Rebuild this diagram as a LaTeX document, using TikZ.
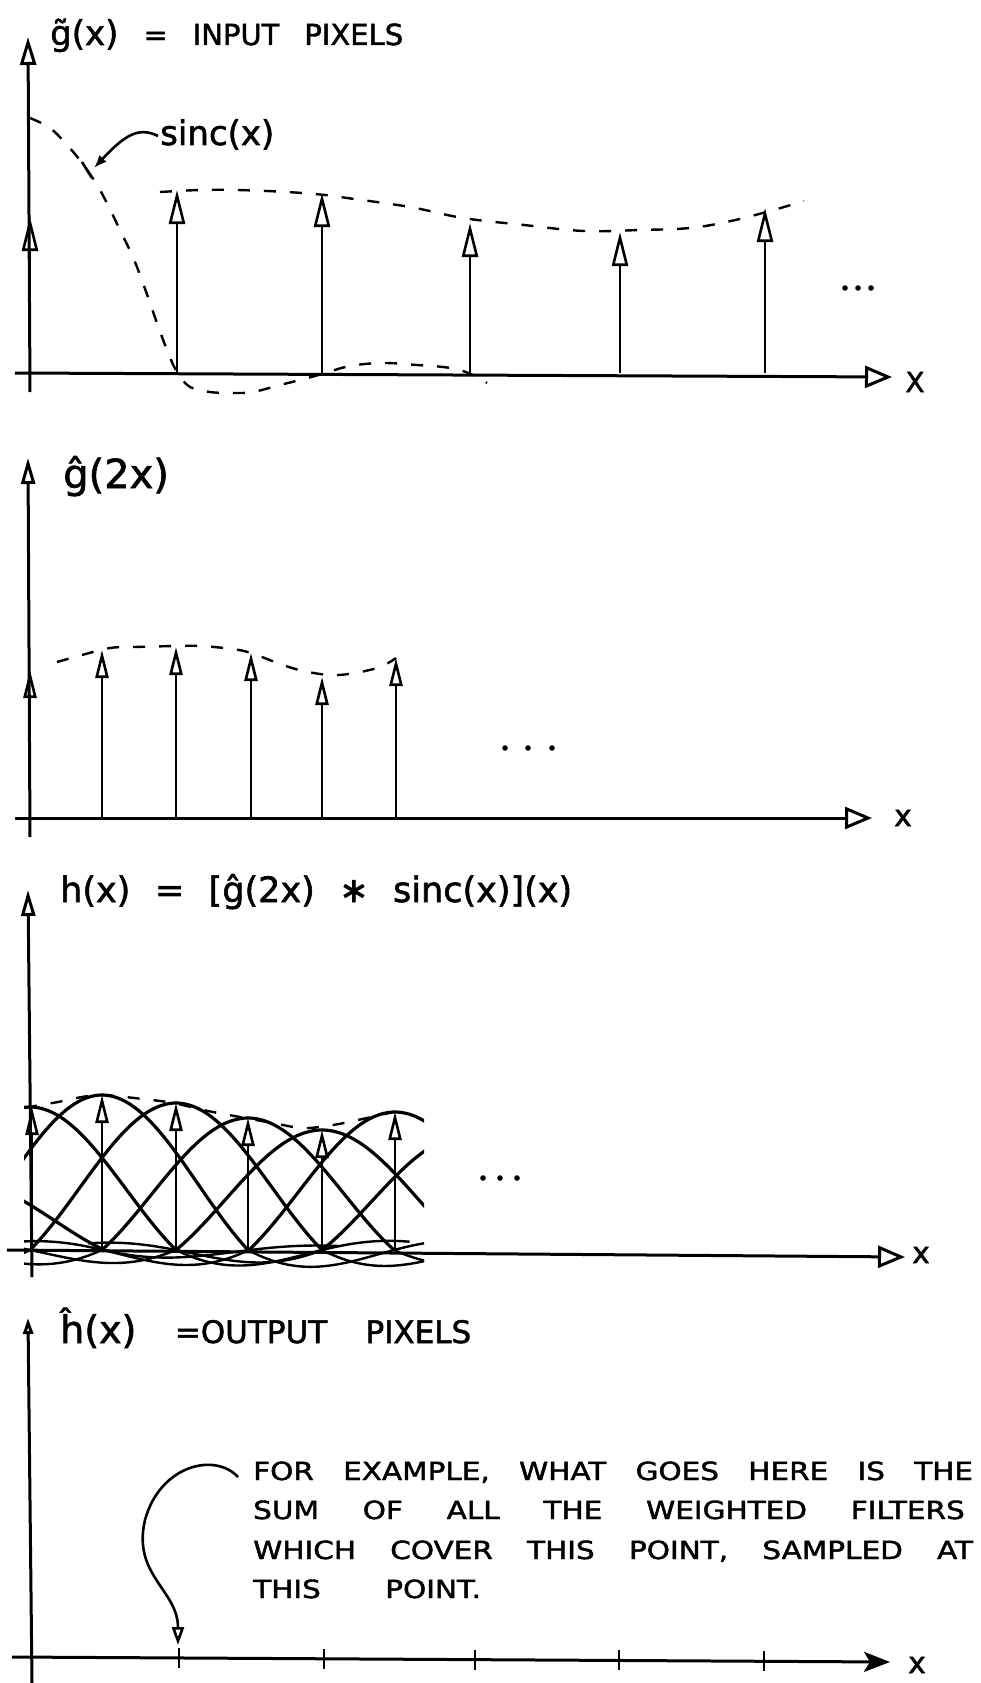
\documentclass[tikz,border=0pt]{standalone}
\usepackage{fontspec}
\setmainfont{DejaVu Sans}[FakeBold=1.6]
\usetikzlibrary{arrows.meta}
\newcommand\spreadtext[2]{\makebox[#1][s]{#2}}
\newcommand\widetext[3]{\scalebox{#1}[1]{\makebox[#2][s]{#3}}}
\tikzset{
  ax/.style={line width=3pt},
  xarrow/.style={ax,-{Triangle[open,length=27pt,width=22pt]}},
  yarrow/.style={ax,-{Triangle[open,length=28pt,width=16pt]}},
  yarrowsmall/.style={ax,-{Triangle[open,length=26pt,width=14pt]}},
  impA/.style={line width=2.6pt,-{Triangle[open,length=34pt,width=16pt]}},
  impB/.style={line width=2.6pt,-{Triangle[open,length=28pt,width=13pt]}},
  dsh/.style={line width=2.4pt,dash pattern=on 12pt off 14pt},
  lobe/.style={line width=3.2pt},
  sidelobe/.style={line width=2.4pt},
  lbl/.style={inner sep=0pt,anchor=base west},
  dotmark/.style={fill=black},
  tickmark/.style={line width=2.5pt}
}
\begin{document}
\begin{tikzpicture}[x=1pt,y=-1pt]
\useasboundingbox (0,0) rectangle (980,1683);

%%%%%%%%%%%%%%%% Panel 1
\draw[xarrow] (15,373) -- (892,377);
\draw[yarrow] (30,392) -- (28,37);
\node[lbl] (t1) at (50,45) {\spreadtext{353pt}{\fontsize{34}{40}\selectfont g^^^^0303(x)\fontsize{29}{34}\selectfont{} = INPUT PIXELS}};
\node[inner sep=0pt,font=\fontsize{28}{32}\selectfont] (X1) at (915,382) {X};
\foreach \px/\py in {30/217,177/190,322/193,470/223,620/232,765/208}
  \draw[impA] (\px,373) -- (\px,\py);
% envelope
\draw[dsh] plot[smooth,tension=0.6] coordinates {(160,192)(200,190)(237,190)(287,192)(325,195)(347,198)(410,207)(463,218)(524,225)(584,231)(640,230)(690,228)(731,221)(770,211)(804,201)};
% sinc
\draw[dsh] plot[smooth,tension=0.6] coordinates {(30,118)(50,128)(67,145)(82,163)(100,190)(120,230)(137,267)(157,323)(167,350)(177,372)(190,387)(210,392)(233,393)(253,392)(280,385)(300,380)(322,374)(350,366)(383,363)(417,365)(443,367)(460,370)(477,377)(487,383)};
\node[lbl,font=\fontsize{34}{40}\selectfont] (sinclbl) at (160,145) {sinc(x)};
\coordinate (sL) at (158,136);
\coordinate (sT) at (94,168);
\draw[line width=2.6pt,-{Latex[length=13pt,width=10pt]}] (sL) .. controls (138,126) and (124,136) .. (sT);
\draw[line width=2.6pt] (82,162) -- (92,178);
\foreach \dx in {845,858,871} \fill[dotmark] (\dx,288) circle (2.8pt);

%%%%%%%%%%%%%%%% Panel 2
\draw[xarrow] (15,818) -- (872,818);
\draw[yarrowsmall] (30,837) -- (28,458);
\node[lbl,font=\fontsize{40}{46}\selectfont] (t2) at (63,488) {^^^^011d(2x)};
\node[inner sep=0pt,font=\fontsize{30}{34}\selectfont] (X2) at (903,818) {x};
\foreach \px/\py in {30/670,102/650,176/647,251/653,322/677,396/658}
  \draw[impB] (\px,818) -- (\px,\py);
\draw[dsh] plot[smooth,tension=0.6] coordinates {(57,662)(82,655)(110,648)(135,647)(176,646)(201,646)(232,649)(251,653)(283,665)(308,672)(339,675)(377,668)(396,658)};
\foreach \dx in {505,528,552} \fill[dotmark] (\dx,748) circle (2.8pt);

%%%%%%%%%%%%%%%% Panel 3
\begin{scope}
\clip (24,1000) rectangle (424,1300);
\foreach \c/\a in {-42/70,30/143,102/155,176/147,248/132,322/120,395/138,468/115}{
  \draw[lobe] plot[domain=-0.995:0.995,samples=40,smooth] ({\c+146*\x},{1250-\a*sin(\x*180)/(\x*pi)});
  \draw[sidelobe] plot[domain=1:2.6,samples=30,smooth] ({\c+146*\x},{1250-0.5*\a*sin(\x*180)/(\x*pi)});
  \draw[sidelobe] plot[domain=-2.6:-1,samples=30,smooth] ({\c+146*\x},{1250-0.5*\a*sin(\x*180)/(\x*pi)});
}
\end{scope}
\draw[xarrow] (7,1250) -- (905,1257);
\draw[yarrowsmall] (32,1277) -- (28,890);
\node[lbl] (t3) at (60,902) {\spreadtext{512pt}{\fontsize{35}{40}\selectfont h(x) = [^^^^011d(2x) ^^^^2217 sinc(x)](x)}};
\node[inner sep=0pt,font=\fontsize{30}{34}\selectfont] (X3) at (921,1255) {x};
\foreach \px/\py in {32/1107,102/1095,176/1103,248/1118,322/1130,395/1112}
  \draw[impB] (\px,1250) -- (\px,\py);
\draw[dsh] plot[smooth,tension=0.6] coordinates {(25,1108)(40,1105)(58,1102)(82,1097)(102,1095)(143,1099)(173,1103)(208,1111)(240,1117)(273,1123)(303,1128)(333,1125)(367,1118)(393,1112)};
\foreach \dx in {483,500,517} \fill[dotmark] (\dx,1178) circle (2.8pt);

%%%%%%%%%%%%%%%% Panel 4
\draw[ax,-{Stealth[length=26pt,width=20pt,inset=6pt]}] (12,1657) -- (890,1662);
\draw[ax,-{Triangle[open,length=16pt,width=10pt]}] (32,1683) -- (28,1318);
\node[lbl] (t4) at (60,1343) {\spreadtext{411pt}{\fontsize{38}{44}\selectfont ^^^^0125(x)\fontsize{31}{36}\selectfont{} =OUTPUT PIXELS}};
\node[inner sep=0pt,font=\fontsize{30}{34}\selectfont] (X4) at (917,1665) {x};
\foreach \tx/\ty in {179/1658,324/1659,475/1660,619/1660,764/1661}
  \draw[tickmark] (\tx,\ty-10) -- (\tx,\ty+10);
\node[lbl,font=\fontsize{25}{28}\selectfont] (L1) at (253,1480) {\widetext{1.18}{610pt}{FOR EXAMPLE,  WHAT GOES HERE IS THE}};
\node[lbl,font=\fontsize{25}{28}\selectfont] (L2) at (253,1519) {\widetext{1.18}{603pt}{SUM OF ALL THE WEIGHTED FILTERS}};
\node[lbl,font=\fontsize{25}{28}\selectfont] (L3) at (253,1559) {\widetext{1.18}{610pt}{WHICH COVER THIS POINT, SAMPLED AT}};
\node[lbl,font=\fontsize{25}{28}\selectfont] (L4) at (253,1598) {\widetext{1.18}{193pt}{THIS POINT.}};
\coordinate (cA) at (238,1477);
\coordinate (cB) at (178,1645);
\draw[line width=2.6pt,-{Triangle[open,length=18pt,width=12pt]}] (cA) .. controls (215,1452) and (160,1465) .. (145,1520) .. controls (132,1575) and (178,1590) .. (cB);
\end{tikzpicture}
\end{document}
